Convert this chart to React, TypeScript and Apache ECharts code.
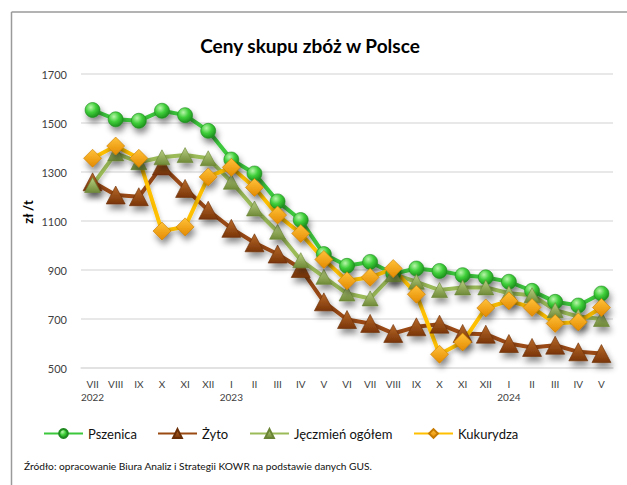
import React, { useEffect, useRef } from "react";
import * as echarts from "echarts";

const months = ["VII","VIII","IX","X","XI","XII","I","II","III","IV","V","VI","VII","VIII","IX","X","XI","XII","I","II","III","IV","V"];
const years: Record<number, string> = { 0: "2022", 6: "2023", 18: "2024" };

const pszenica = [1553,1515,1509,1550,1532,1468,1351,1294,1180,1104,965,917,933,885,906,896,879,870,852,815,770,755,804];
const zyto = [1260,1206,1199,1325,1233,1144,1070,1011,965,906,770,698,682,641,668,679,641,638,600,584,593,566,559];
const jeczmien = [1247,1376,1340,1360,1369,1356,1260,1151,1056,940,872,804,784,883,852,818,829,829,805,797,736,710,700];
const kukurydza = [1356,1406,1356,1059,1076,1280,1319,1237,1124,1049,943,856,870,906,801,556,606,745,774,747,682,688,747];

const yTicks = { min: 500, max: 1700, interval: 200 };

const FONT = "Lato, 'Noto Sans', sans-serif";

const lin = (a: string, b: string) => ({
  type: "linear", x: 0, y: 0, x2: 0, y2: 1,
  colorStops: [{ offset: 0, color: a }, { offset: 1, color: b }],
});

const markerShadow = {
  shadowBlur: 6,
  shadowColor: "rgba(0,0,0,0.45)",
  shadowOffsetX: 2,
  shadowOffsetY: 5,
};
const lineShadow = {
  shadowBlur: 4,
  shadowColor: "rgba(0,0,0,0.22)",
  shadowOffsetX: 1,
  shadowOffsetY: 3,
};

export default function App() {
  const ref = useRef<HTMLDivElement>(null);
  useEffect(() => {
    if (!ref.current) return;
    const chart = echarts.init(ref.current, null, { renderer: "svg" });
    const mkSeries = (name: string, data: number[], lineColor: string, symbol: string, size: number | number[], fill: any, border: string) => ({
      name,
      type: "line",
      data,
      symbol,
      symbolSize: size,
      showAllSymbol: true,
      lineStyle: { color: lineColor, width: 4, ...lineShadow },
      itemStyle: { color: fill, borderColor: border, borderWidth: 0.6, ...markerShadow },
      emphasis: { disabled: true },
    });
    const mkLegend = (name: string, left: number) => ({
      show: true,
      data: [name],
      left,
      top: 427,
      padding: 0,
      itemWidth: 39,
      itemHeight: 11,
      textStyle: { fontFamily: FONT, fontSize: 13, color: "#111" },
      selectedMode: false,
    });
    chart.setOption({
      animation: false,
      backgroundColor: "#fff",
      grid: { left: 81, right: 14, top: 74, bottom: 117 },
      legend: [
        mkLegend("Pszenica", 43),
        mkLegend("Żyto", 157),
        mkLegend("Jęczmień ogółem", 249),
        mkLegend("Kukurydza", 413),
      ],
      xAxis: {
        type: "category",
        data: months,
        boundaryGap: true,
        axisLine: { show: true, lineStyle: { color: "#e0e0e0", width: 1.5 } },
        axisTick: { show: false },
        axisLabel: {
          interval: 0,
          margin: 9,
          formatter: (v: string, i: number) => (years[i] ? `{m|${v}}\n{y|${years[i]}}` : `{m|${v}}`),
          rich: {
            m: { fontFamily: FONT, fontSize: 10, color: "#404040", lineHeight: 13 },
            y: { fontFamily: FONT, fontSize: 10, color: "#404040", lineHeight: 13 },
          },
        },
      },
      yAxis: {
        type: "value",
        min: yTicks.min,
        max: yTicks.max,
        interval: yTicks.interval,
        axisLine: { show: false },
        axisTick: { show: false },
        axisLabel: { margin: 14, fontFamily: FONT, fontSize: 11, color: "#404040", formatter: (v: number) => String(v) },
        splitLine: { lineStyle: { color: "#e0e0e0", width: 1.5 } },
      },
      series: [
        mkSeries("Pszenica", pszenica, "#3cc83c", "circle", 15,
          { type: "radial", x: 0.38, y: 0.32, r: 0.7, colorStops: [{ offset: 0, color: "#b9f5ab" }, { offset: 0.5, color: "#3fcf3a" }, { offset: 1, color: "#1c8f1c" }] },
          "#1f8a1f"),
        mkSeries("Żyto", zyto, "#9a4a12", "triangle", [19, 18], lin("#b86a2a", "#7a3508"), "#6a2e06"),
        mkSeries("Jęczmień ogółem", jeczmien, "#9bbb59", "triangle", [16, 15], lin("#b8cf82", "#6f8a38"), "#6a8435"),
        mkSeries("Kukurydza", kukurydza, "#ffc000", "diamond", 18, lin("#ffc23a", "#e48a00"), "#c77a00"),
      ],
      graphic: [
        { type: "line", shape: { x1: 11.5, y1: 12, x2: 627, y2: 12 }, style: { stroke: "#9a9a9a", lineWidth: 1.5 } },
        { type: "line", shape: { x1: 11.5, y1: 12, x2: 11.5, y2: 485 }, style: { stroke: "#9a9a9a", lineWidth: 1.5 } },
        { type: "text", x: 310, y: 45, style: { text: "Ceny skupu zbóż w Polsce", align: "center", verticalAlign: "middle", fontFamily: FONT, fontSize: 19, fontWeight: "bold", fill: "#000" } },
        { type: "text", x: 28, y: 212, rotation: Math.PI / 2, style: { text: "zł /t", align: "center", verticalAlign: "middle", fontFamily: FONT, fontSize: 13, fontWeight: "bold", fill: "#000" } },
        { type: "text", x: 24, y: 466, style: { text: "Źródło: opracowanie Biura Analiz i Strategii KOWR na podstawie danych GUS.", align: "left", verticalAlign: "middle", fontFamily: FONT, fontSize: 10.2, fill: "#111" } },
      ],
    });
    return () => chart.dispose();
  }, []);
  return <div ref={ref} style={{ position: "fixed", left: 0, top: 0, width: 627, height: 485 }} />;
}
